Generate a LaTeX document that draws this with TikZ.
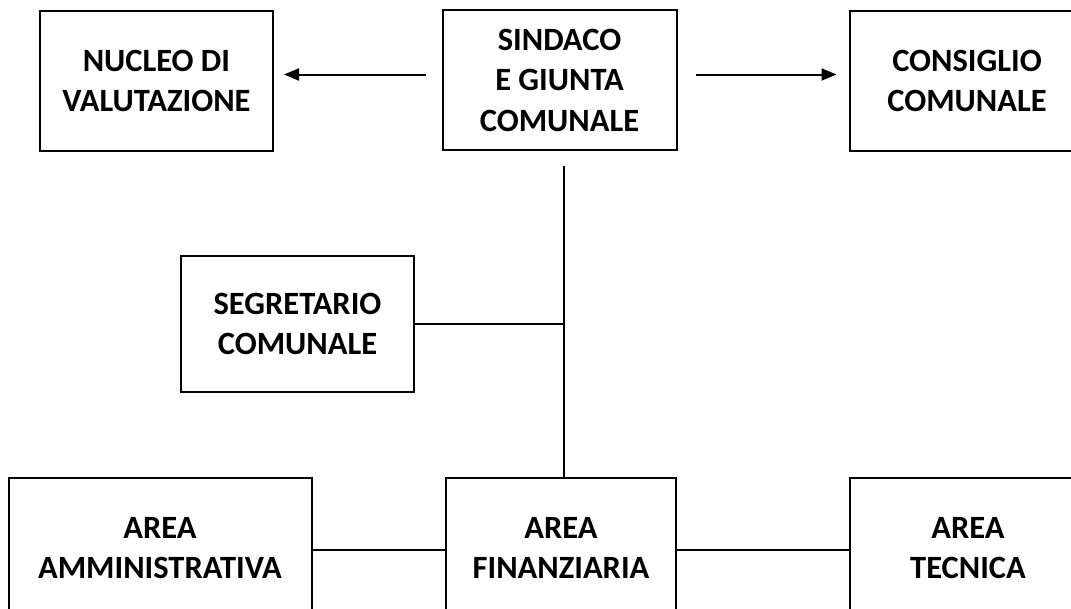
\documentclass[tikz,border=0pt]{standalone}
\usepackage{fontspec}
\setmainfont{Carlito}
\usetikzlibrary{arrows.meta}
\begin{document}
\begin{tikzpicture}[x=1pt,y=-1pt,
  box/.style={draw, line width=2pt, align=center, font=\fontsize{32.5}{40.5}\selectfont\bfseries, inner sep=0pt},
  conn/.style={line width=2pt},
  arr/.style={line width=2pt, -{Triangle[length=15pt,width=12pt]}}]
\clip (0,0) rectangle (1071,608);
\fill[white] (0,0) rectangle (1071,608);
\node[box, minimum width=233pt, minimum height=140pt] (nucleo) at (156.5,81) {NUCLEO DI\\VALUTAZIONE};
\node[box, minimum width=234pt, minimum height=140pt] (sindaco) at (559.5,80) {SINDACO\\E GIUNTA\\COMUNALE};
\node[box, minimum width=234pt, minimum height=140pt] (consiglio) at (967,81) {CONSIGLIO\\COMUNALE};
\node[box, minimum width=233pt, minimum height=136pt] (segretario) at (297.5,324) {SEGRETARIO\\COMUNALE};
\node[box, minimum width=303pt, minimum height=140pt] (aa) at (160,548) {AREA\\AMMINISTRATIVA};
\node[box, minimum width=230pt, minimum height=140pt] (af) at (561,548) {AREA\\FINANZIARIA};
\node[box, minimum width=236pt, minimum height=140pt] (at) at (968,548) {AREA\\TECNICA};
\coordinate (l1s) at (426,74.5);
\coordinate (l1e) at (284,74.5);
\coordinate (r1s) at (695.5,74.5);
\coordinate (r1e) at (836.5,74.5);
\coordinate (vtop) at (563.5,165.5);
\coordinate (vseg) at (563.5,324);
\draw[arr] (l1s) -- (l1e);
\draw[arr] (r1s) -- (r1e);
\draw[conn] (vtop) -- (vtop |- af.north);
\draw[conn] (segretario.east) -- (vseg);
\draw[conn] ([yshift=-2pt]aa.east) -- ([yshift=-2pt]af.west);
\draw[conn] ([yshift=-2pt]af.east) -- ([yshift=-2pt]at.west);
\end{tikzpicture}
\end{document}
